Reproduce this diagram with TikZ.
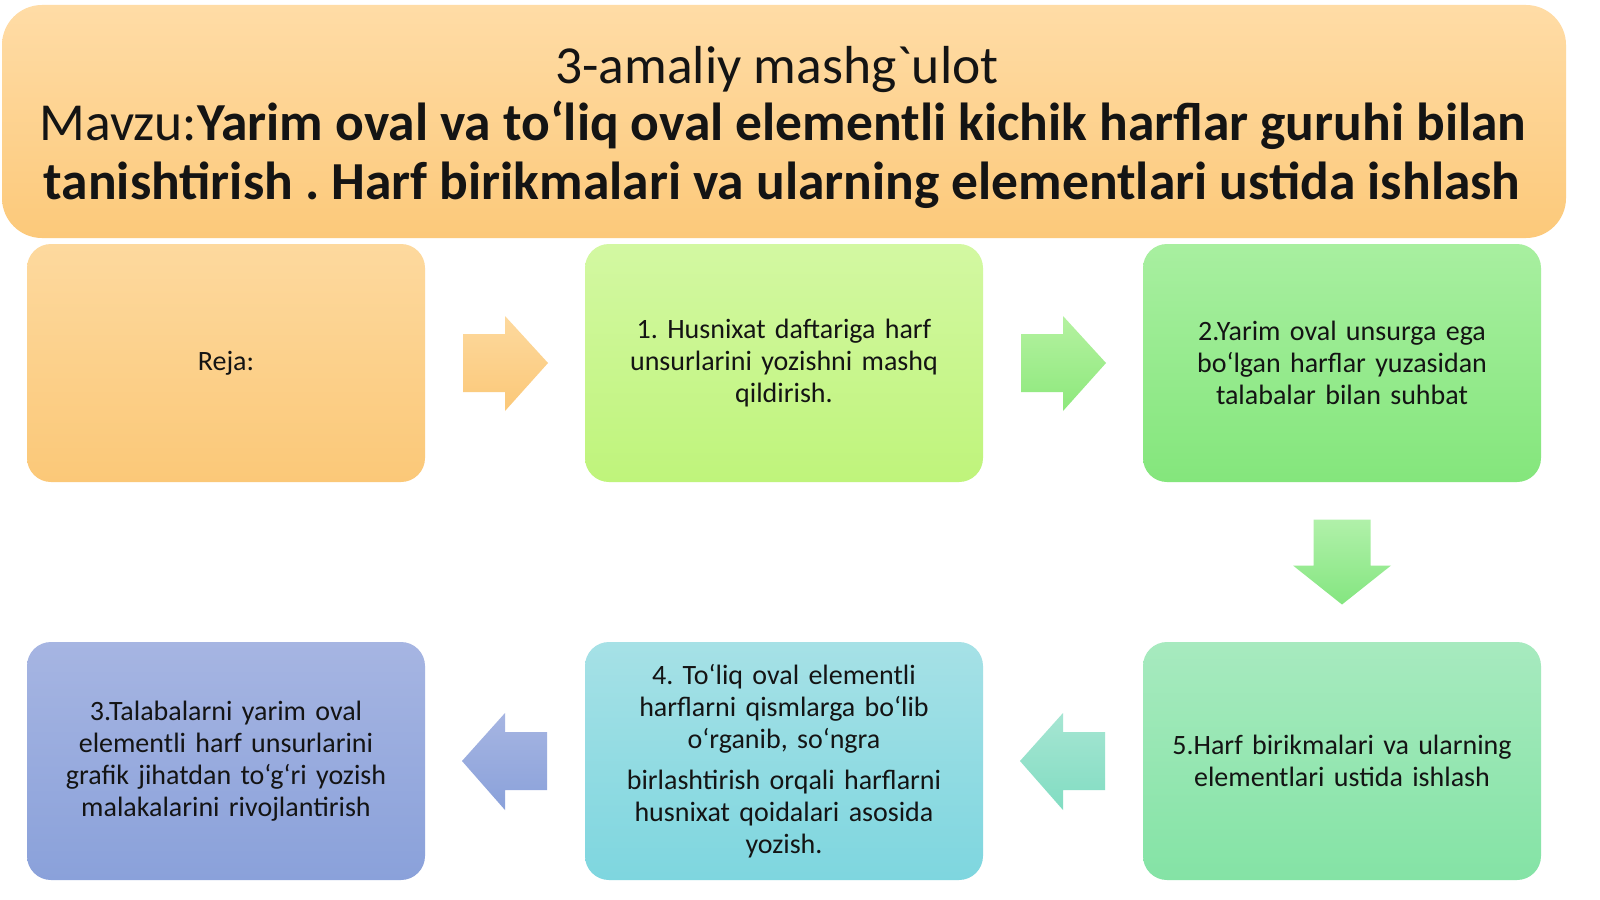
\documentclass[tikz,border=0pt]{standalone}
\usepackage{fontspec}
\setmainfont{Carlito}[Ligatures=TeXOff]
\usetikzlibrary{calc}
\definecolor{hdrT}{HTML}{FFDCA6}
\definecolor{hdrB}{HTML}{FCC97A}
\definecolor{orT}{HTML}{FDD99E}
\definecolor{orB}{HTML}{FBC878}
\definecolor{lgT}{HTML}{D3F8A2}
\definecolor{lgB}{HTML}{BFF47B}
\definecolor{gT}{HTML}{A8EFA0}
\definecolor{gB}{HTML}{84E67C}
\definecolor{mT}{HTML}{A7EABF}
\definecolor{mB}{HTML}{84E3A5}
\definecolor{cT}{HTML}{A6E1E6}
\definecolor{cB}{HTML}{7ED6DF}
\definecolor{bT}{HTML}{A6B5E2}
\definecolor{bB}{HTML}{8AA1DA}
\definecolor{txt}{HTML}{141414}
\frenchspacing
\tikzset{
  stepbox/.style={rectangle, rounded corners=24pt, minimum width=398pt, minimum height=238pt,
    text width=360pt, align=center, inner sep=0pt, text=txt,
    font=\fontsize{28}{32}\selectfont},
  blockarrow/.style={draw=none},
  hdrline/.style={anchor=base, inner sep=0pt, text=txt, font=\fontsize{53.5}{59}\selectfont}
}
\begin{document}
\begin{tikzpicture}[x=1pt,y=-1pt]
\useasboundingbox (0,0) rectangle (1600,899);
\fill[white] (0,0) rectangle (1600,899);
% header
\node[rectangle, rounded corners=40pt, minimum width=1564pt, minimum height=233pt, inner sep=0pt,
  top color=hdrT, bottom color=hdrB] (hdr) at (784,121.5) {};
\node[hdrline] (t1) at (777,83) {3-amaliy mashg`ulot};
\node[hdrline] (t2) at (783,140) {Mavzu:\textbf{Yarim oval va to‘liq oval elementli kichik harflar guruhi bilan}};
\node[hdrline] (t3) at (782,199) {\textbf{tanishtirish . Harf birikmalari va ularning elementlari ustida ishlash}};
% boxes
\node[stepbox, top color=orT, bottom color=orB] (reja) at (226,363) {Reja:};
\node[stepbox, top color=lgT, bottom color=lgB] (b1) at (784,363) {1. Husnixat daftariga harf\\unsurlarini yozishni mashq\\qildirish.};
\node[stepbox, top color=gT, bottom color=gB] (b2) at (1342,363) {2.Yarim oval unsurga ega\\bo‘lgan harflar yuzasidan\\talabalar bilan suhbat};
\node[stepbox, top color=mT, bottom color=mB] (b5) at (1342,761) {5.Harf birikmalari va ularning\\elementlari ustida ishlash};
\node[stepbox, top color=cT, bottom color=cB] (b4) at (784,761) {4. To‘liq oval elementli\\harflarni qismlarga bo‘lib\\o‘rganib, so‘ngra\\[9pt]birlashtirish orqali harflarni\\husnixat qoidalari asosida\\yozish.};
\node[stepbox, top color=bT, bottom color=bB] (b3) at (226,761) {3.Talabalarni yarim oval\\elementli harf unsurlarini\\grafik jihatdan to‘g‘ri yozish\\malakalarini rivojlantirish};
% arrows
\coordinate (m1) at ($(reja.east)!0.5!(b1.west)$);
\coordinate (m2) at ($(b1.east)!0.5!(b2.west)$);
\coordinate (m3) at ($(b2.south)!0.5!(b5.north)$);
\coordinate (m4) at ($(b5.west)!0.5!(b4.east)$);
\coordinate (m5) at ($(b4.west)!0.5!(b3.east)$);
% right arrows
\shade[blockarrow, top color=orT, bottom color=orB]
  ([shift={(-42,-29)}]m1) -- ([shift={(0,-29)}]m1) -- ([shift={(0,-47)}]m1) -- ([shift={(43,0)}]m1)
  -- ([shift={(0,48)}]m1) -- ([shift={(0,29)}]m1) -- ([shift={(-42,29)}]m1) -- cycle;
\shade[blockarrow, top color=lgT!30!gT, bottom color=gB!85!lgB]
  ([shift={(-42,-29)}]m2) -- ([shift={(0,-29)}]m2) -- ([shift={(0,-47)}]m2) -- ([shift={(43,0)}]m2)
  -- ([shift={(0,48)}]m2) -- ([shift={(0,29)}]m2) -- ([shift={(-42,29)}]m2) -- cycle;
% down arrow
\shade[blockarrow, top color=gT!90!white, bottom color=gB!90!mB]
  ([shift={(-28.5,-42.5)}]m3) -- ([shift={(28.5,-42.5)}]m3) -- ([shift={(28.5,3.5)}]m3) -- ([shift={(49,3.5)}]m3)
  -- ([shift={(0,42.5)}]m3) -- ([shift={(-49,3.5)}]m3) -- ([shift={(-28.5,3.5)}]m3) -- cycle;
% left arrows
\shade[blockarrow, top color=mT!50!cT, bottom color=mB!50!cB]
  ([shift={(42,-29)}]m4) -- ([shift={(0,-29)}]m4) -- ([shift={(0,-48)}]m4) -- ([shift={(-43,0)}]m4)
  -- ([shift={(0,49)}]m4) -- ([shift={(0,29)}]m4) -- ([shift={(42,29)}]m4) -- cycle;
\shade[blockarrow, top color=bT, bottom color=bB]
  ([shift={(42,-29)}]m5) -- ([shift={(0,-29)}]m5) -- ([shift={(0,-48)}]m5) -- ([shift={(-43,0)}]m5)
  -- ([shift={(0,49)}]m5) -- ([shift={(0,29)}]m5) -- ([shift={(42,29)}]m5) -- cycle;
\end{tikzpicture}
\end{document}
